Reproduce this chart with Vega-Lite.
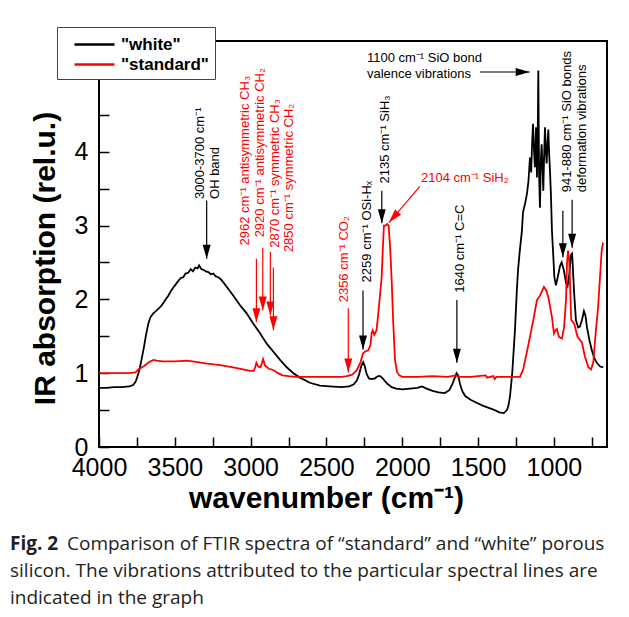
{
  "$schema": "https://vega.github.io/schema/vega-lite/v6.json",
  "width": 508,
  "height": 406,
  "autosize": {"type": "none"},
  "padding": {"left": 99, "top": 41, "right": 22, "bottom": 170},
  "background": "white",
  "config": {
    "view": {"stroke": "black", "strokeWidth": 2},
    "font": "Liberation Sans"
  },
  "title": {
    "text": "Fig. 2",
    "subtitle": ["\u200b\u2003\u2003\u2003Comparison of FTIR spectra of “standard” and “white” porous", "silicon. The vibrations attributed to the particular spectral lines are", "indicated in the graph"],
    "orient": "bottom",
    "anchor": "start",
    "frame": "group",
    "dx": -89,
    "offset": 22,
    "font": "Open Sans",
    "fontSize": 19,
    "lineHeight": 19,
    "fontWeight": "bold",
    "color": "#231f20",
    "subtitleFont": "Open Sans",
    "subtitleFontSize": 19,
    "subtitleFontWeight": "normal",
    "subtitleColor": "#231f20",
    "subtitleLineHeight": 27,
    "subtitlePadding": -19
  },
  "datasets": {
    "spectra": [
      {"wn": 4000, "a": 0.80, "s": "white"}, {"wn": 3950, "a": 0.80, "s": "white"}, {"wn": 3900, "a": 0.81, "s": "white"},
      {"wn": 3850, "a": 0.81, "s": "white"}, {"wn": 3800, "a": 0.82, "s": "white"}, {"wn": 3775, "a": 0.84, "s": "white"},
      {"wn": 3760, "a": 0.88, "s": "white"}, {"wn": 3752, "a": 0.92, "s": "white"}, {"wn": 3740, "a": 1.00, "s": "white"},
      {"wn": 3730, "a": 1.08, "s": "white"}, {"wn": 3716, "a": 1.22, "s": "white"}, {"wn": 3703, "a": 1.36, "s": "white"},
      {"wn": 3690, "a": 1.52, "s": "white"}, {"wn": 3675, "a": 1.67, "s": "white"}, {"wn": 3660, "a": 1.76, "s": "white"},
      {"wn": 3642, "a": 1.81, "s": "white"}, {"wn": 3625, "a": 1.84, "s": "white"}, {"wn": 3609, "a": 1.87, "s": "white"},
      {"wn": 3590, "a": 1.91, "s": "white"}, {"wn": 3576, "a": 1.95, "s": "white"}, {"wn": 3560, "a": 2.00, "s": "white"},
      {"wn": 3543, "a": 2.05, "s": "white"}, {"wn": 3527, "a": 2.11, "s": "white"}, {"wn": 3510, "a": 2.16, "s": "white"},
      {"wn": 3495, "a": 2.20, "s": "white"}, {"wn": 3477, "a": 2.25, "s": "white"}, {"wn": 3460, "a": 2.29, "s": "white"},
      {"wn": 3444, "a": 2.30, "s": "white"}, {"wn": 3430, "a": 2.35, "s": "white"}, {"wn": 3411, "a": 2.36, "s": "white"},
      {"wn": 3395, "a": 2.41, "s": "white"}, {"wn": 3380, "a": 2.38, "s": "white"}, {"wn": 3365, "a": 2.43, "s": "white"},
      {"wn": 3350, "a": 2.42, "s": "white"}, {"wn": 3340, "a": 2.46, "s": "white"}, {"wn": 3325, "a": 2.41, "s": "white"},
      {"wn": 3312, "a": 2.40, "s": "white"}, {"wn": 3295, "a": 2.38, "s": "white"}, {"wn": 3279, "a": 2.37, "s": "white"},
      {"wn": 3262, "a": 2.34, "s": "white"}, {"wn": 3246, "a": 2.35, "s": "white"}, {"wn": 3230, "a": 2.31, "s": "white"},
      {"wn": 3213, "a": 2.30, "s": "white"}, {"wn": 3196, "a": 2.27, "s": "white"}, {"wn": 3180, "a": 2.23, "s": "white"},
      {"wn": 3147, "a": 2.14, "s": "white"}, {"wn": 3114, "a": 2.05, "s": "white"}, {"wn": 3070, "a": 1.92, "s": "white"},
      {"wn": 3026, "a": 1.81, "s": "white"}, {"wn": 2982, "a": 1.67, "s": "white"}, {"wn": 2938, "a": 1.54, "s": "white"},
      {"wn": 2894, "a": 1.40, "s": "white"}, {"wn": 2850, "a": 1.29, "s": "white"}, {"wn": 2806, "a": 1.18, "s": "white"},
      {"wn": 2762, "a": 1.08, "s": "white"}, {"wn": 2718, "a": 1.00, "s": "white"}, {"wn": 2675, "a": 0.94, "s": "white"},
      {"wn": 2609, "a": 0.87, "s": "white"}, {"wn": 2543, "a": 0.83, "s": "white"}, {"wn": 2480, "a": 0.82, "s": "white"},
      {"wn": 2400, "a": 0.81, "s": "white"}, {"wn": 2350, "a": 0.82, "s": "white"}, {"wn": 2320, "a": 0.85, "s": "white"},
      {"wn": 2300, "a": 0.90, "s": "white"}, {"wn": 2285, "a": 0.98, "s": "white"}, {"wn": 2270, "a": 1.10, "s": "white"},
      {"wn": 2258, "a": 1.15, "s": "white"}, {"wn": 2248, "a": 1.10, "s": "white"}, {"wn": 2235, "a": 0.99, "s": "white"},
      {"wn": 2220, "a": 0.93, "s": "white"}, {"wn": 2200, "a": 0.92, "s": "white"}, {"wn": 2180, "a": 0.93, "s": "white"},
      {"wn": 2160, "a": 0.96, "s": "white"}, {"wn": 2145, "a": 0.96, "s": "white"}, {"wn": 2125, "a": 0.92, "s": "white"},
      {"wn": 2100, "a": 0.86, "s": "white"}, {"wn": 2070, "a": 0.81, "s": "white"}, {"wn": 2040, "a": 0.79, "s": "white"},
      {"wn": 2000, "a": 0.78, "s": "white"}, {"wn": 1950, "a": 0.79, "s": "white"}, {"wn": 1900, "a": 0.80, "s": "white"},
      {"wn": 1870, "a": 0.82, "s": "white"}, {"wn": 1840, "a": 0.79, "s": "white"}, {"wn": 1800, "a": 0.76, "s": "white"},
      {"wn": 1760, "a": 0.74, "s": "white"}, {"wn": 1720, "a": 0.73, "s": "white"}, {"wn": 1690, "a": 0.77, "s": "white"},
      {"wn": 1670, "a": 0.85, "s": "white"}, {"wn": 1655, "a": 0.93, "s": "white"}, {"wn": 1642, "a": 1.00, "s": "white"},
      {"wn": 1632, "a": 0.97, "s": "white"}, {"wn": 1620, "a": 0.86, "s": "white"}, {"wn": 1605, "a": 0.76, "s": "white"},
      {"wn": 1585, "a": 0.69, "s": "white"}, {"wn": 1550, "a": 0.64, "s": "white"}, {"wn": 1510, "a": 0.60, "s": "white"},
      {"wn": 1470, "a": 0.56, "s": "white"}, {"wn": 1430, "a": 0.53, "s": "white"}, {"wn": 1390, "a": 0.50, "s": "white"},
      {"wn": 1360, "a": 0.47, "s": "white"}, {"wn": 1330, "a": 0.46, "s": "white"}, {"wn": 1310, "a": 0.50, "s": "white"},
      {"wn": 1300, "a": 0.56, "s": "white"}, {"wn": 1290, "a": 0.68, "s": "white"}, {"wn": 1275, "a": 1.00, "s": "white"},
      {"wn": 1257, "a": 1.58, "s": "white"}, {"wn": 1245, "a": 2.10, "s": "white"}, {"wn": 1237, "a": 2.39, "s": "white"},
      {"wn": 1225, "a": 2.66, "s": "white"}, {"wn": 1211, "a": 2.93, "s": "white"}, {"wn": 1204, "a": 3.18, "s": "white"},
      {"wn": 1190, "a": 3.30, "s": "white"}, {"wn": 1178, "a": 3.43, "s": "white"}, {"wn": 1168, "a": 3.60, "s": "white"},
      {"wn": 1158, "a": 3.92, "s": "white"}, {"wn": 1150, "a": 3.72, "s": "white"}, {"wn": 1144, "a": 4.10, "s": "white"},
      {"wn": 1138, "a": 4.38, "s": "white"}, {"wn": 1131, "a": 4.00, "s": "white"}, {"wn": 1125, "a": 3.79, "s": "white"},
      {"wn": 1118, "a": 4.33, "s": "white"}, {"wn": 1112, "a": 3.65, "s": "white"}, {"wn": 1106, "a": 4.40, "s": "white"},
      {"wn": 1103, "a": 5.10, "s": "white"}, {"wn": 1098, "a": 3.70, "s": "white"}, {"wn": 1092, "a": 3.24, "s": "white"},
      {"wn": 1086, "a": 3.90, "s": "white"}, {"wn": 1081, "a": 4.10, "s": "white"}, {"wn": 1075, "a": 3.78, "s": "white"},
      {"wn": 1070, "a": 3.47, "s": "white"}, {"wn": 1064, "a": 4.00, "s": "white"}, {"wn": 1059, "a": 4.33, "s": "white"},
      {"wn": 1053, "a": 4.00, "s": "white"}, {"wn": 1048, "a": 3.84, "s": "white"}, {"wn": 1042, "a": 4.12, "s": "white"},
      {"wn": 1037, "a": 4.30, "s": "white"}, {"wn": 1031, "a": 3.95, "s": "white"}, {"wn": 1026, "a": 3.74, "s": "white"},
      {"wn": 1020, "a": 3.43, "s": "white"}, {"wn": 1013, "a": 2.93, "s": "white"}, {"wn": 1005, "a": 2.62, "s": "white"},
      {"wn": 997, "a": 2.30, "s": "white"}, {"wn": 987, "a": 2.19, "s": "white"}, {"wn": 975, "a": 2.30, "s": "white"},
      {"wn": 960, "a": 2.45, "s": "white"}, {"wn": 949, "a": 2.50, "s": "white"}, {"wn": 935, "a": 2.40, "s": "white"},
      {"wn": 920, "a": 2.22, "s": "white"}, {"wn": 910, "a": 2.18, "s": "white"}, {"wn": 898, "a": 2.35, "s": "white"},
      {"wn": 888, "a": 2.60, "s": "white"}, {"wn": 880, "a": 2.62, "s": "white"}, {"wn": 872, "a": 2.30, "s": "white"},
      {"wn": 865, "a": 2.03, "s": "white"}, {"wn": 855, "a": 1.72, "s": "white"}, {"wn": 840, "a": 1.62, "s": "white"},
      {"wn": 829, "a": 1.63, "s": "white"}, {"wn": 815, "a": 1.72, "s": "white"}, {"wn": 802, "a": 1.84, "s": "white"},
      {"wn": 792, "a": 1.78, "s": "white"}, {"wn": 782, "a": 1.62, "s": "white"}, {"wn": 765, "a": 1.44, "s": "white"},
      {"wn": 750, "a": 1.31, "s": "white"}, {"wn": 735, "a": 1.21, "s": "white"}, {"wn": 717, "a": 1.14, "s": "white"},
      {"wn": 695, "a": 1.09, "s": "white"}, {"wn": 675, "a": 1.08, "s": "white"},

      {"wn": 4000, "a": 1.00, "s": "standard"}, {"wn": 3900, "a": 1.00, "s": "standard"}, {"wn": 3800, "a": 1.00, "s": "standard"},
      {"wn": 3760, "a": 1.01, "s": "standard"}, {"wn": 3740, "a": 1.05, "s": "standard"}, {"wn": 3700, "a": 1.10, "s": "standard"},
      {"wn": 3670, "a": 1.15, "s": "standard"}, {"wn": 3640, "a": 1.18, "s": "standard"}, {"wn": 3620, "a": 1.17, "s": "standard"},
      {"wn": 3580, "a": 1.16, "s": "standard"}, {"wn": 3500, "a": 1.16, "s": "standard"}, {"wn": 3420, "a": 1.17, "s": "standard"},
      {"wn": 3350, "a": 1.15, "s": "standard"}, {"wn": 3288, "a": 1.13, "s": "standard"}, {"wn": 3200, "a": 1.11, "s": "standard"},
      {"wn": 3116, "a": 1.08, "s": "standard"}, {"wn": 3050, "a": 1.05, "s": "standard"}, {"wn": 3004, "a": 1.03, "s": "standard"},
      {"wn": 2980, "a": 1.03, "s": "standard"}, {"wn": 2970, "a": 1.08, "s": "standard"}, {"wn": 2962, "a": 1.14, "s": "standard"},
      {"wn": 2950, "a": 1.09, "s": "standard"}, {"wn": 2935, "a": 1.08, "s": "standard"}, {"wn": 2925, "a": 1.14, "s": "standard"},
      {"wn": 2918, "a": 1.19, "s": "standard"}, {"wn": 2905, "a": 1.10, "s": "standard"}, {"wn": 2880, "a": 1.06, "s": "standard"},
      {"wn": 2860, "a": 1.05, "s": "standard"}, {"wn": 2840, "a": 1.03, "s": "standard"}, {"wn": 2820, "a": 1.00, "s": "standard"},
      {"wn": 2790, "a": 0.97, "s": "standard"}, {"wn": 2750, "a": 0.96, "s": "standard"}, {"wn": 2700, "a": 0.95, "s": "standard"},
      {"wn": 2600, "a": 0.95, "s": "standard"}, {"wn": 2500, "a": 0.95, "s": "standard"}, {"wn": 2400, "a": 0.95, "s": "standard"},
      {"wn": 2365, "a": 0.96, "s": "standard"}, {"wn": 2330, "a": 0.98, "s": "standard"}, {"wn": 2300, "a": 1.04, "s": "standard"},
      {"wn": 2275, "a": 1.15, "s": "standard"}, {"wn": 2259, "a": 1.27, "s": "standard"}, {"wn": 2240, "a": 1.30, "s": "standard"},
      {"wn": 2224, "a": 1.31, "s": "standard"}, {"wn": 2210, "a": 1.38, "s": "standard"}, {"wn": 2202, "a": 1.54, "s": "standard"},
      {"wn": 2195, "a": 1.58, "s": "standard"}, {"wn": 2185, "a": 1.52, "s": "standard"}, {"wn": 2170, "a": 1.58, "s": "standard"},
      {"wn": 2158, "a": 1.81, "s": "standard"}, {"wn": 2145, "a": 2.10, "s": "standard"}, {"wn": 2136, "a": 2.30, "s": "standard"},
      {"wn": 2128, "a": 2.70, "s": "standard"}, {"wn": 2121, "a": 3.00, "s": "standard"}, {"wn": 2110, "a": 3.00, "s": "standard"},
      {"wn": 2100, "a": 3.02, "s": "standard"}, {"wn": 2090, "a": 3.00, "s": "standard"}, {"wn": 2080, "a": 2.70, "s": "standard"},
      {"wn": 2070, "a": 2.26, "s": "standard"}, {"wn": 2060, "a": 1.70, "s": "standard"}, {"wn": 2048, "a": 1.18, "s": "standard"},
      {"wn": 2035, "a": 1.02, "s": "standard"}, {"wn": 2020, "a": 0.97, "s": "standard"}, {"wn": 2000, "a": 0.95, "s": "standard"},
      {"wn": 1900, "a": 0.95, "s": "standard"}, {"wn": 1800, "a": 0.96, "s": "standard"}, {"wn": 1700, "a": 0.95, "s": "standard"},
      {"wn": 1650, "a": 0.97, "s": "standard"}, {"wn": 1620, "a": 0.95, "s": "standard"}, {"wn": 1550, "a": 0.95, "s": "standard"},
      {"wn": 1450, "a": 0.97, "s": "standard"}, {"wn": 1440, "a": 0.94, "s": "standard"}, {"wn": 1400, "a": 0.96, "s": "standard"},
      {"wn": 1390, "a": 0.92, "s": "standard"}, {"wn": 1380, "a": 0.95, "s": "standard"}, {"wn": 1300, "a": 0.95, "s": "standard"},
      {"wn": 1270, "a": 0.95, "s": "standard"}, {"wn": 1224, "a": 0.95, "s": "standard"}, {"wn": 1204, "a": 1.04, "s": "standard"},
      {"wn": 1180, "a": 1.27, "s": "standard"}, {"wn": 1158, "a": 1.49, "s": "standard"}, {"wn": 1136, "a": 1.72, "s": "standard"},
      {"wn": 1112, "a": 1.99, "s": "standard"}, {"wn": 1092, "a": 2.05, "s": "standard"}, {"wn": 1066, "a": 2.17, "s": "standard"},
      {"wn": 1050, "a": 2.12, "s": "standard"}, {"wn": 1037, "a": 2.03, "s": "standard"}, {"wn": 1013, "a": 1.76, "s": "standard"},
      {"wn": 1000, "a": 1.54, "s": "standard"}, {"wn": 990, "a": 1.58, "s": "standard"}, {"wn": 980, "a": 1.60, "s": "standard"},
      {"wn": 967, "a": 1.49, "s": "standard"}, {"wn": 947, "a": 1.47, "s": "standard"}, {"wn": 933, "a": 1.62, "s": "standard"},
      {"wn": 920, "a": 2.00, "s": "standard"}, {"wn": 914, "a": 2.48, "s": "standard"}, {"wn": 907, "a": 2.66, "s": "standard"},
      {"wn": 900, "a": 2.55, "s": "standard"}, {"wn": 895, "a": 2.30, "s": "standard"}, {"wn": 886, "a": 1.72, "s": "standard"},
      {"wn": 866, "a": 1.67, "s": "standard"}, {"wn": 844, "a": 1.49, "s": "standard"}, {"wn": 816, "a": 1.42, "s": "standard"},
      {"wn": 795, "a": 1.22, "s": "standard"}, {"wn": 773, "a": 1.08, "s": "standard"}, {"wn": 755, "a": 1.05, "s": "standard"},
      {"wn": 740, "a": 1.15, "s": "standard"}, {"wn": 729, "a": 1.44, "s": "standard"}, {"wn": 709, "a": 1.89, "s": "standard"},
      {"wn": 685, "a": 2.66, "s": "standard"}, {"wn": 676, "a": 2.77, "s": "standard"}
    ],
    "arrows": [
      {"wn": 3290, "a": 2.55, "wn0": 3290, "a0": 3.34, "s": "white", "dir": "down"},
      {"wn": 2962, "a": 1.69, "wn0": 2962, "a0": 2.55, "s": "standard", "dir": "down"},
      {"wn": 2920, "a": 1.85, "wn0": 2920, "a0": 2.70, "s": "standard", "dir": "down"},
      {"wn": 2870, "a": 1.78, "wn0": 2870, "a0": 2.64, "s": "standard", "dir": "down"},
      {"wn": 2850, "a": 1.58, "wn0": 2850, "a0": 2.43, "s": "standard", "dir": "down"},
      {"wn": 2356, "a": 1.01, "wn0": 2356, "a0": 1.88, "s": "standard", "dir": "down"},
      {"wn": 2259, "a": 1.32, "wn0": 2259, "a0": 2.12, "s": "white", "dir": "down"},
      {"wn": 2135, "a": 3.03, "wn0": 2135, "a0": 3.47, "s": "white", "dir": "down"},
      {"wn": 1640, "a": 1.14, "wn0": 1640, "a0": 1.99, "s": "white", "dir": "down"},
      {"wn": 941, "a": 2.57, "wn0": 941, "a0": 3.20, "s": "white", "dir": "down"},
      {"wn": 880, "a": 2.70, "wn0": 880, "a0": 3.35, "s": "white", "dir": "down"},
      {"wn": 1160, "a": 5.08, "wn0": 1488, "a0": 5.08, "s": "white", "dir": "right"},
      {"wn": 2088, "a": 3.04, "wn0": 1884, "a0": 3.53, "s": "standard", "dir": "downleft"}
    ],
    "vtext": [
      {"wn": 3334, "a": 3.36, "s": "white", "label": "3000-3700 cm⁻¹\nOH band"},
      {"wn": 3037, "a": 2.73, "s": "standard", "label": "2962 cm⁻¹ antisymmetric CH₃"},
      {"wn": 2938, "a": 2.84, "s": "standard", "label": "2920 cm⁻¹ antisymmetric CH₂"},
      {"wn": 2840, "a": 2.70, "s": "standard", "label": "2870 cm⁻¹ symmetric CH₃"},
      {"wn": 2747, "a": 2.64, "s": "standard", "label": "2850 cm⁻¹ symmetric CH₂"},
      {"wn": 2385, "a": 1.96, "s": "standard", "label": "2356 cm⁻¹ CO₂"},
      {"wn": 2233, "a": 2.23, "s": "white", "label": "2259 cm⁻¹ OSi-Hₓ"},
      {"wn": 2114, "a": 3.57, "s": "white", "label": "2135 cm⁻¹ SiH₃"},
      {"wn": 1620, "a": 2.09, "s": "white", "label": "1640 cm⁻¹ C=C"},
      {"wn": 914, "a": 3.45, "s": "white", "label": "941-880 cm⁻¹ SiO bonds\ndeformation vibrations"}
    ],
    "htext": [
      {"wn": 2233, "a": 5.27, "s": "white", "label": "1100 cm⁻¹ SiO bond\nvalence vibrations"},
      {"wn": 1877, "a": 3.65, "s": "standard", "label": "2104 cm⁻¹ SiH₂"}
    ]
  },
  "encoding": {
    "x": {
      "field": "wn", "type": "quantitative",
      "title": "wavenumber (cm⁻¹)",
      "scale": {"domain": [650, 4000], "reverse": true, "nice": false, "zero": false},
      "axis": {
        "values": [4000, 3750, 3500, 3250, 3000, 2750, 2500, 2250, 2000, 1750, 1500, 1250, 1000, 750],
        "format": "d",
        "labelExpr": "datum.value % 500 === 0 ? datum.label : ''",
        "grid": false, "domain": false,
        "tickSize": -10, "tickColor": "black", "tickWidth": 1.5,
        "labelFont": "Liberation Sans", "labelFontSize": 25, "labelColor": "black",
        "labelPadding": 18, "labelOverlap": false, "labelFlush": false,
        "titleFont": "Liberation Sans", "titleFontSize": 30, "titleFontWeight": "bold", "titleColor": "black",
        "titleX": 227, "titleY": 36, "titleBaseline": "top", "titleAlign": "center"
      }
    },
    "y": {
      "field": "a", "type": "quantitative",
      "title": "IR absorption (rel.u.)",
      "scale": {"domain": [0, 5.5], "nice": false, "zero": false},
      "axis": {
        "values": [0, 0.5, 1, 1.5, 2, 2.5, 3, 3.5, 4, 4.5, 5],
        "labelExpr": "datum.value % 1 === 0 && datum.value < 5 ? datum.value + '' : ''",
        "grid": false, "domain": false,
        "tickSize": -10, "tickColor": "black", "tickWidth": 1.5,
        "labelFont": "Liberation Sans", "labelFontSize": 25, "labelColor": "black",
        "labelPadding": 21, "labelOverlap": false, "labelFlush": false,
        "titleFont": "Liberation Sans", "titleFontSize": 30, "titleFontWeight": "bold", "titleColor": "black",
        "titleX": -54, "titleY": 217, "titleAngle": 270, "titleBaseline": "middle", "titleAlign": "center"
      }
    },
    "color": {
      "field": "s", "type": "nominal",
      "scale": {"domain": ["white", "standard"], "range": ["black", "#ff0000"]},
      "legend": {
        "title": null, "orient": "none", "legendX": -42, "legendY": -14, "direction": "vertical",
        "symbolType": "M-2,0L2,0", "symbolSize": 400, "symbolStrokeWidth": 2.5,
        "labelFont": "Liberation Sans", "labelFontSize": 17, "labelFontWeight": "bold", "labelColor": "black",
        "labelExpr": "'\"' + datum.label + '\"'", "labelOffset": 15,
        "fillColor": "white", "strokeColor": "#444", "padding": 6, "symbolOffset": 20, "rowPadding": 0
      }
    }
  },
  "layer": [
    {"data": {"name": "spectra"}, "mark": {"type": "line", "strokeWidth": 1.8, "clip": true}},
    {"data": {"name": "arrows"}, "mark": {"type": "rule", "strokeWidth": 1.2},
     "encoding": {"x2": {"field": "wn0"}, "y2": {"field": "a0"}}},
    {"data": {"name": "arrows"}, "mark": {"type": "point", "filled": true, "size": 196, "opacity": 1, "strokeWidth": 0},
     "encoding": {"shape": {"field": "dir", "type": "nominal", "legend": null,
       "scale": {"domain": ["down", "right", "downleft"], "range": ["M0,0L-0.57,-2L0.57,-2Z", "M0,0L-2,-0.57L-2,0.57Z", "M0,0L1.736,-1.138L0.876,-1.882Z"]}}}},
    {"data": {"name": "vtext"}, "mark": {"type": "text", "angle": 270, "align": "left", "baseline": "middle", "fontSize": 13, "lineBreak": "\n", "lineHeight": 15},
     "encoding": {"text": {"field": "label"}}},
    {"data": {"name": "htext"}, "mark": {"type": "text", "align": "left", "baseline": "middle", "fontSize": 13, "lineBreak": "\n", "lineHeight": 16},
     "encoding": {"text": {"field": "label"}}}
  ]
}
